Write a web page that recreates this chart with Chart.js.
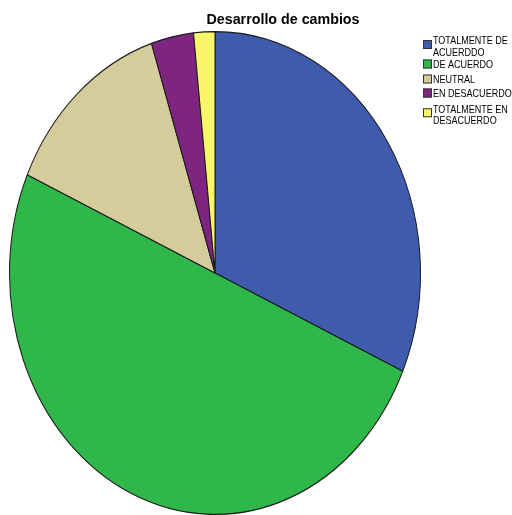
<!DOCTYPE html>
<html>
<head>
<meta charset="utf-8">
<script src="https://cdn.jsdelivr.net/npm/chart.js@4"></script>
<style>
  html, body { margin: 0; padding: 0; background: #fff; }
  canvas { display: block; }
</style>
</head>
<body>
<canvas id="grafico" width="512" height="515"></canvas>
<script>
// Datos de la encuesta
const categorias = ["TOTALMENTE DE ACUERDDO", "DE ACUERDO", "NEUTRAL", "EN DESACUERDO", "TOTALMENTE EN DESACUERDO"];
const frecuencias = [19, 30, 8, 2, 1];
const colores = ["#3f5bad", "#2fb74a", "#d4cd9b", "#7e2580", "#fbf56b"];
// Texto de la leyenda partido en renglones
const lineasLeyenda = [["TOTALMENTE DE", "ACUERDDO"], ["DE ACUERDO"], ["NEUTRAL"], ["EN DESACUERDO"], ["TOTALMENTE EN", "DESACUERDO"]];
const titulo = "Desarrollo de cambios";

const ctx = document.getElementById("grafico");

// El pastel sale más alto que ancho: se estira en vertical
const estiramiento = 242 / 206;

const estirarPastel = {
  id: "estirarPastel",
  beforeDatasetsDraw: (chart) => {
    const { ctx, chartArea } = chart;
    const cy = (chartArea.top + chartArea.bottom) / 2;
    ctx.save();
    ctx.translate(0, cy);
    ctx.scale(1, estiramiento);
    ctx.translate(0, -cy);
  },
  afterDatasetsDraw: (chart) => {
    chart.ctx.restore();
  }
};

// Título y leyenda dibujados a mano (letra estrecha)
const tituloYLeyenda = {
  id: "tituloYLeyenda",
  afterDraw: (chart) => {
    const { ctx } = chart;
    ctx.save();
    ctx.fillStyle = "#000";
    ctx.textBaseline = "alphabetic";

    ctx.save();
    ctx.font = "bold 15px 'Liberation Sans', Arial, sans-serif";
    const ancho = ctx.measureText(titulo).width;
    ctx.translate(283, 24);
    ctx.scale(153 / ancho, 1);
    ctx.textAlign = "center";
    ctx.fillText(titulo, 0, 0);
    ctx.restore();

    const colors = chart.data.datasets[0].backgroundColor;
    const baselines = [[44, 56], [68], [83], [97], [112.5, 124]];
    ctx.font = "11px 'Liberation Sans', Arial, sans-serif";
    lineasLeyenda.forEach((lineas, i) => {
      const b = baselines[i];
      const medio = lineas.length > 1 ? (b[0] + b[1]) / 2 - 5.5 : b[0] - 4;
      ctx.fillStyle = colors[i];
      ctx.fillRect(423, medio - 4.5, 9, 9);
      ctx.strokeStyle = "#333";
      ctx.lineWidth = 1;
      ctx.strokeRect(423.5, medio - 4, 8, 8);
      ctx.fillStyle = "#000";
      lineas.forEach((t, j) => {
        ctx.save();
        ctx.translate(433, b[j]);
        ctx.scale(0.82, 1);
        ctx.fillText(t, 0, 0);
        ctx.restore();
      });
    });
    ctx.restore();
  }
};

new Chart(ctx, {
  type: "pie",
  data: {
    labels: categorias,
    datasets: [{
      data: frecuencias,
      backgroundColor: colores,
      borderColor: "#1a1a1a",
      borderWidth: 1,
      clip: false
    }]
  },
  options: {
    responsive: false,
    animation: false,
    devicePixelRatio: 1,
    layout: {
      padding: { left: 9, right: 91, top: 67, bottom: 36 }
    },
    plugins: {
      legend: { display: false },
      title: { display: false },
      tooltip: { enabled: false }
    }
  },
  plugins: [estirarPastel, tituloYLeyenda]
});
</script>
</body>
</html>
